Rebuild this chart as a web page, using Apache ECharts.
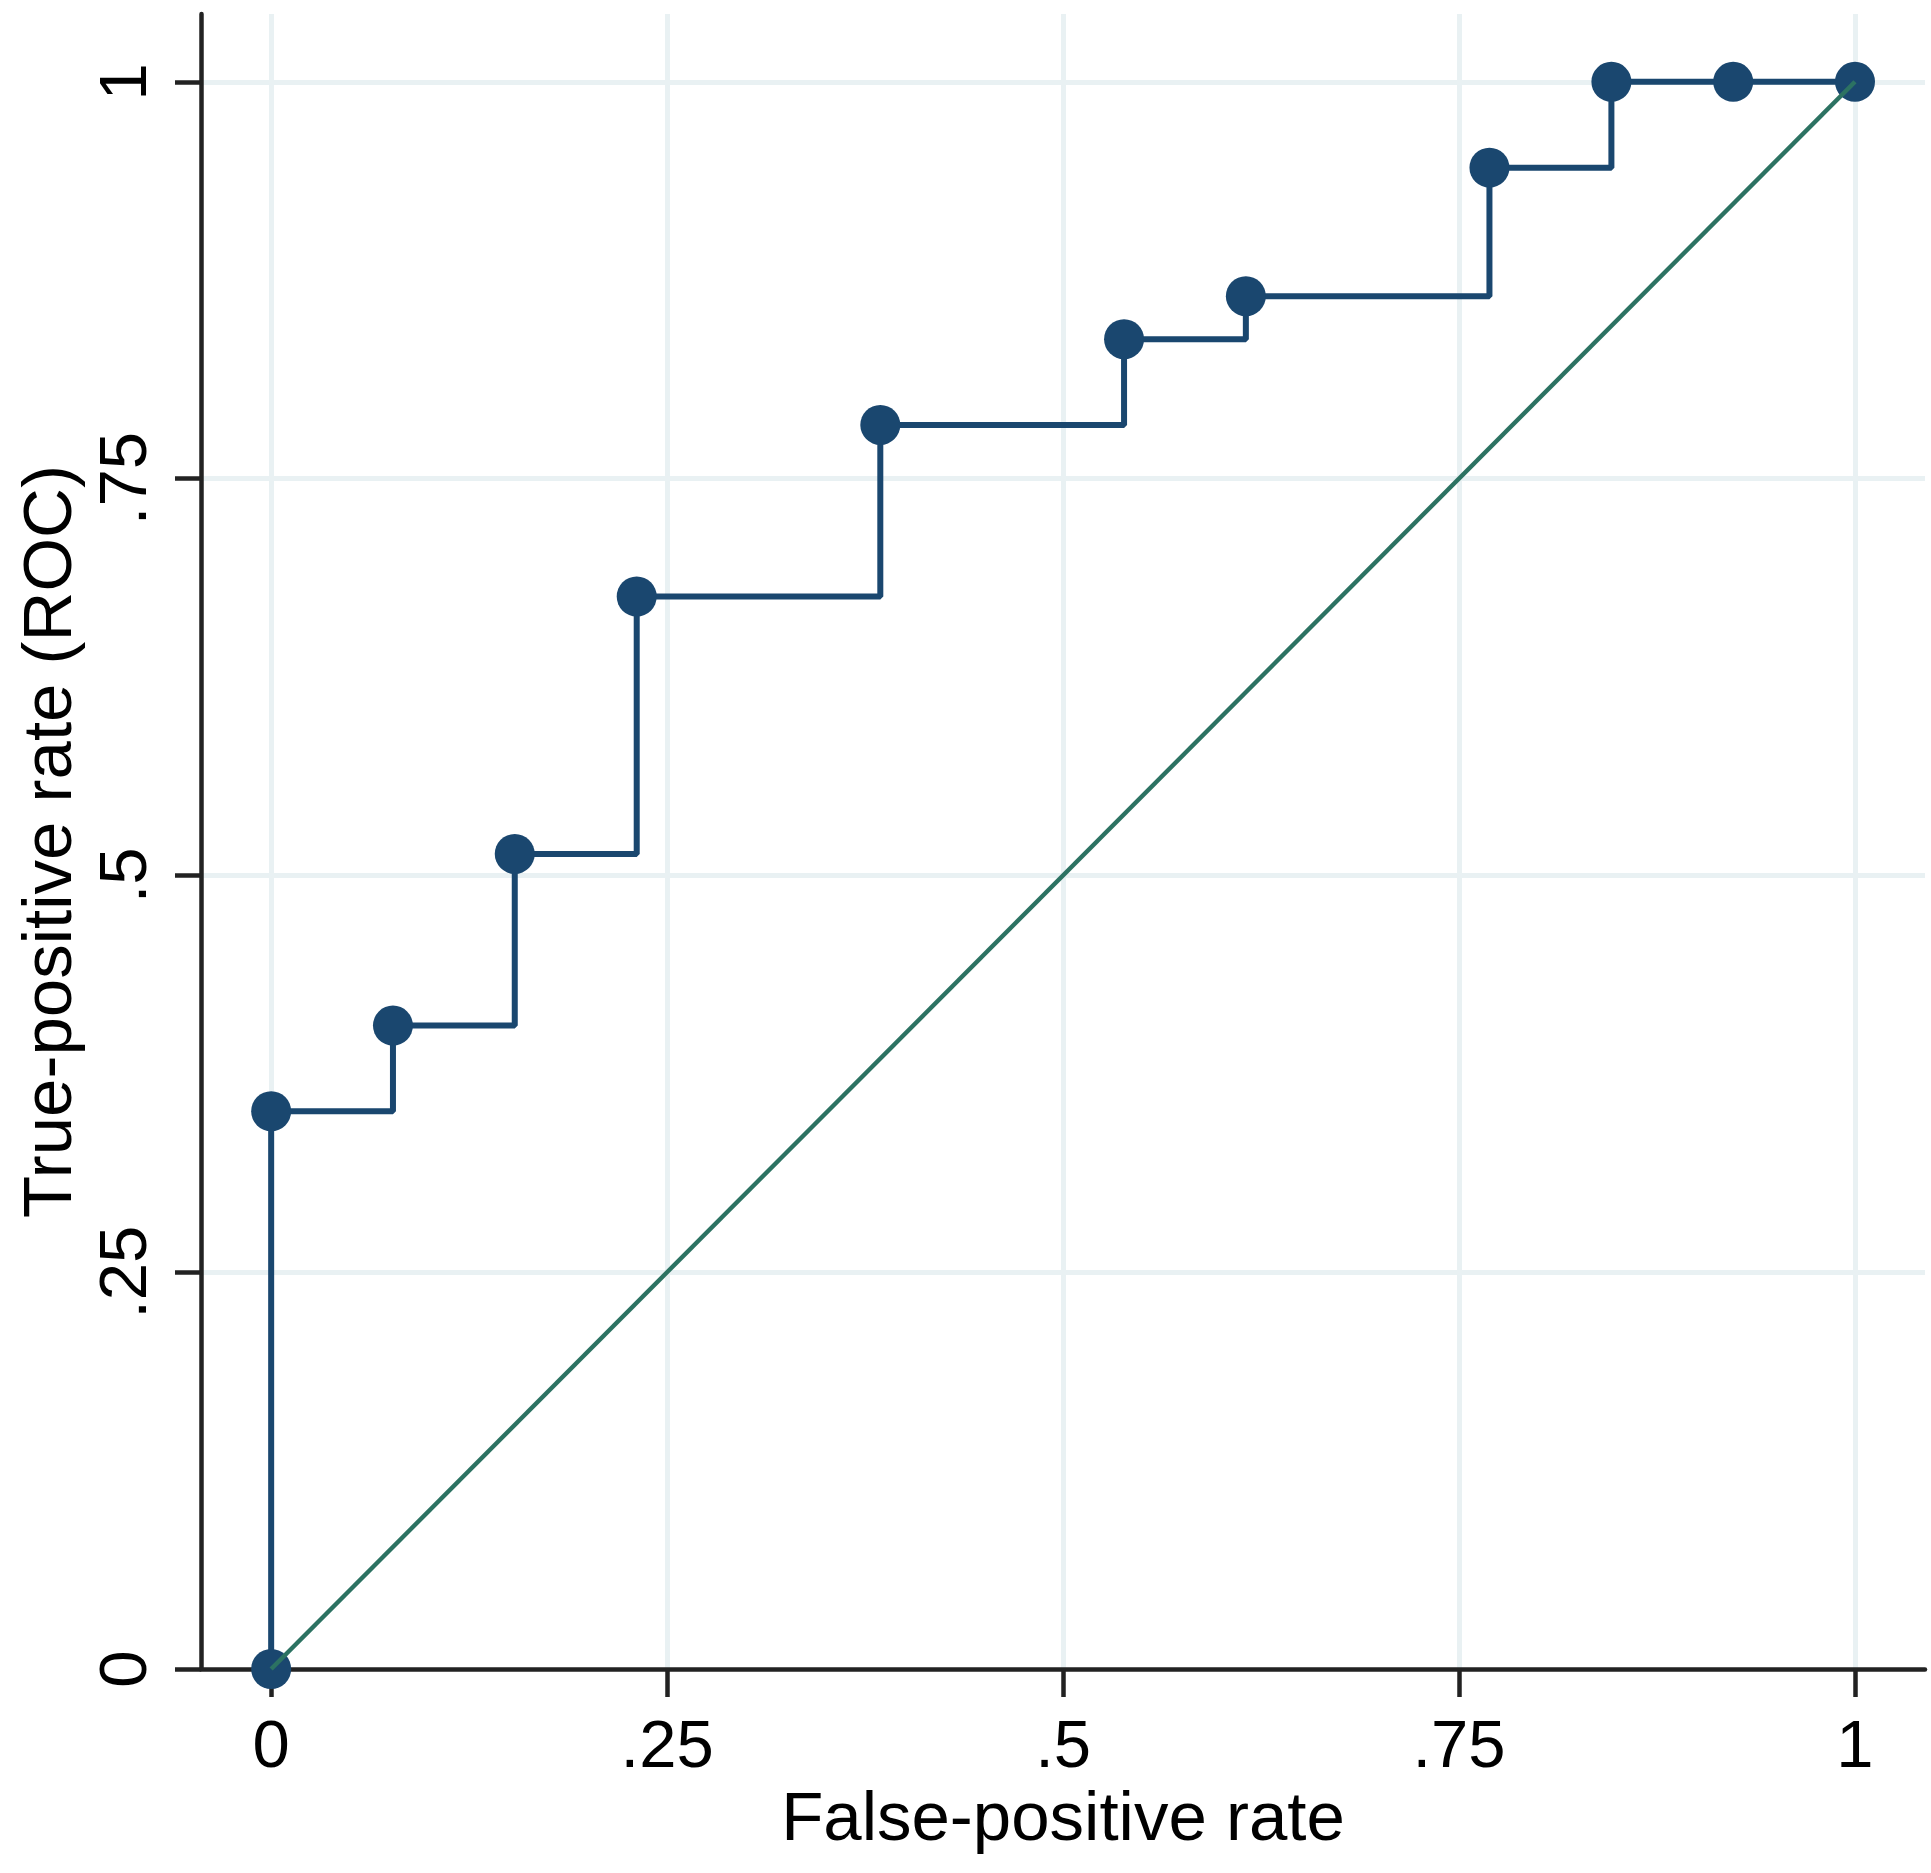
<!DOCTYPE html>
<html>
<head>
<meta charset="utf-8">
<script src="https://cdn.jsdelivr.net/npm/echarts@6/dist/echarts.min.js"></script>
<style>
html,body{margin:0;padding:0;background:#fff;}
#chart{width:1931px;height:1873px;}
</style>
</head>
<body>
<div id="chart"></div>
<script>
// ROC curve data
const fpr = [0, 0, 0.0769, 0.1538, 0.2308, 0.3846, 0.5385, 0.6154, 0.7692, 0.8462, 0.9231, 1];
const tpr = [0, 0.3514, 0.4054, 0.5135, 0.6757, 0.7838, 0.8378, 0.8649, 0.9459, 1, 1, 1];
const refX = [0, 1];
const refY = [0, 1];
const xTicks = [0, 0.25, 0.5, 0.75, 1];
const yTicks = [0, 0.25, 0.5, 0.75, 1];
const xTitle = 'False-positive rate';
const yTitle = 'True-positive rate (ROC)';

const fmt = v => {
  const s = String(+v.toFixed(4));
  return s.replace(/^0\./, '.');
};

const FONT = '"Liberation Sans", Arial, sans-serif';
const gridColor = '#e9f1f3';

const chart = echarts.init(document.getElementById('chart'));
chart.setOption({
  backgroundColor: '#ffffff',
  animation: false,
  grid: { left: 201, right: 6, top: 14, bottom: 204, containLabel: false },
  xAxis: {
    type: 'value',
    min: -0.0443,
    max: 1.0442,
    name: xTitle,
    nameLocation: 'middle',
    nameGap: 112,
    nameTextStyle: { fontFamily: FONT, fontSize: 69, color: '#000' },
    axisLine: { show: true, onZero: false, lineStyle: { color: '#222', width: 4.5 } },
    axisTick: { show: true, length: 28, customValues: xTicks, lineStyle: { color: '#222', width: 4.5 } },
    axisLabel: { customValues: xTicks, formatter: fmt, fontFamily: FONT, fontSize: 67, color: '#000', margin: 46 },
    splitLine: { show: false }
  },
  yAxis: {
    type: 'value',
    min: 0,
    max: 1.0427,
    name: yTitle,
    nameLocation: 'middle',
    nameGap: 112,
    nameRotate: 90,
    nameTextStyle: { fontFamily: FONT, fontSize: 69, color: '#000' },
    axisLine: { show: true, onZero: false, lineStyle: { color: '#222', width: 4.5 } },
    axisTick: { show: true, length: 26, customValues: yTicks, lineStyle: { color: '#222', width: 4.5 } },
    axisLabel: { customValues: yTicks, formatter: fmt, rotate: 90, fontFamily: FONT, fontSize: 67, color: '#000', margin: 40 },
    splitLine: { show: false }
  },
  series: [
    {
      type: 'line',
      data: [],
      silent: true,
      z: 0,
      markLine: {
        silent: true,
        z: 0,
        symbol: 'none',
        animation: false,
        label: { show: false },
        lineStyle: { color: gridColor, width: 5, type: 'solid' },
        data: xTicks.map(v => ({ xAxis: v })).concat(yTicks.filter(v => v > 0).map(v => ({ yAxis: v })))
      }
    },
    {
      type: 'line',
      step: 'end',
      data: fpr.map((x, i) => [x, tpr[i]]),
      symbol: 'circle',
      symbolSize: 40,
      showAllSymbol: true,
      lineStyle: { color: '#1a476f', width: 6 },
      itemStyle: { color: '#1a476f' },
      z: 6
    },
    {
      type: 'line',
      data: refX.map((x, i) => [x, refY[i]]),
      symbol: 'none',
      lineStyle: { color: '#2c7262', width: 4.5 },
      z: 7
    }
  ]
});
</script>
</body>
</html>
